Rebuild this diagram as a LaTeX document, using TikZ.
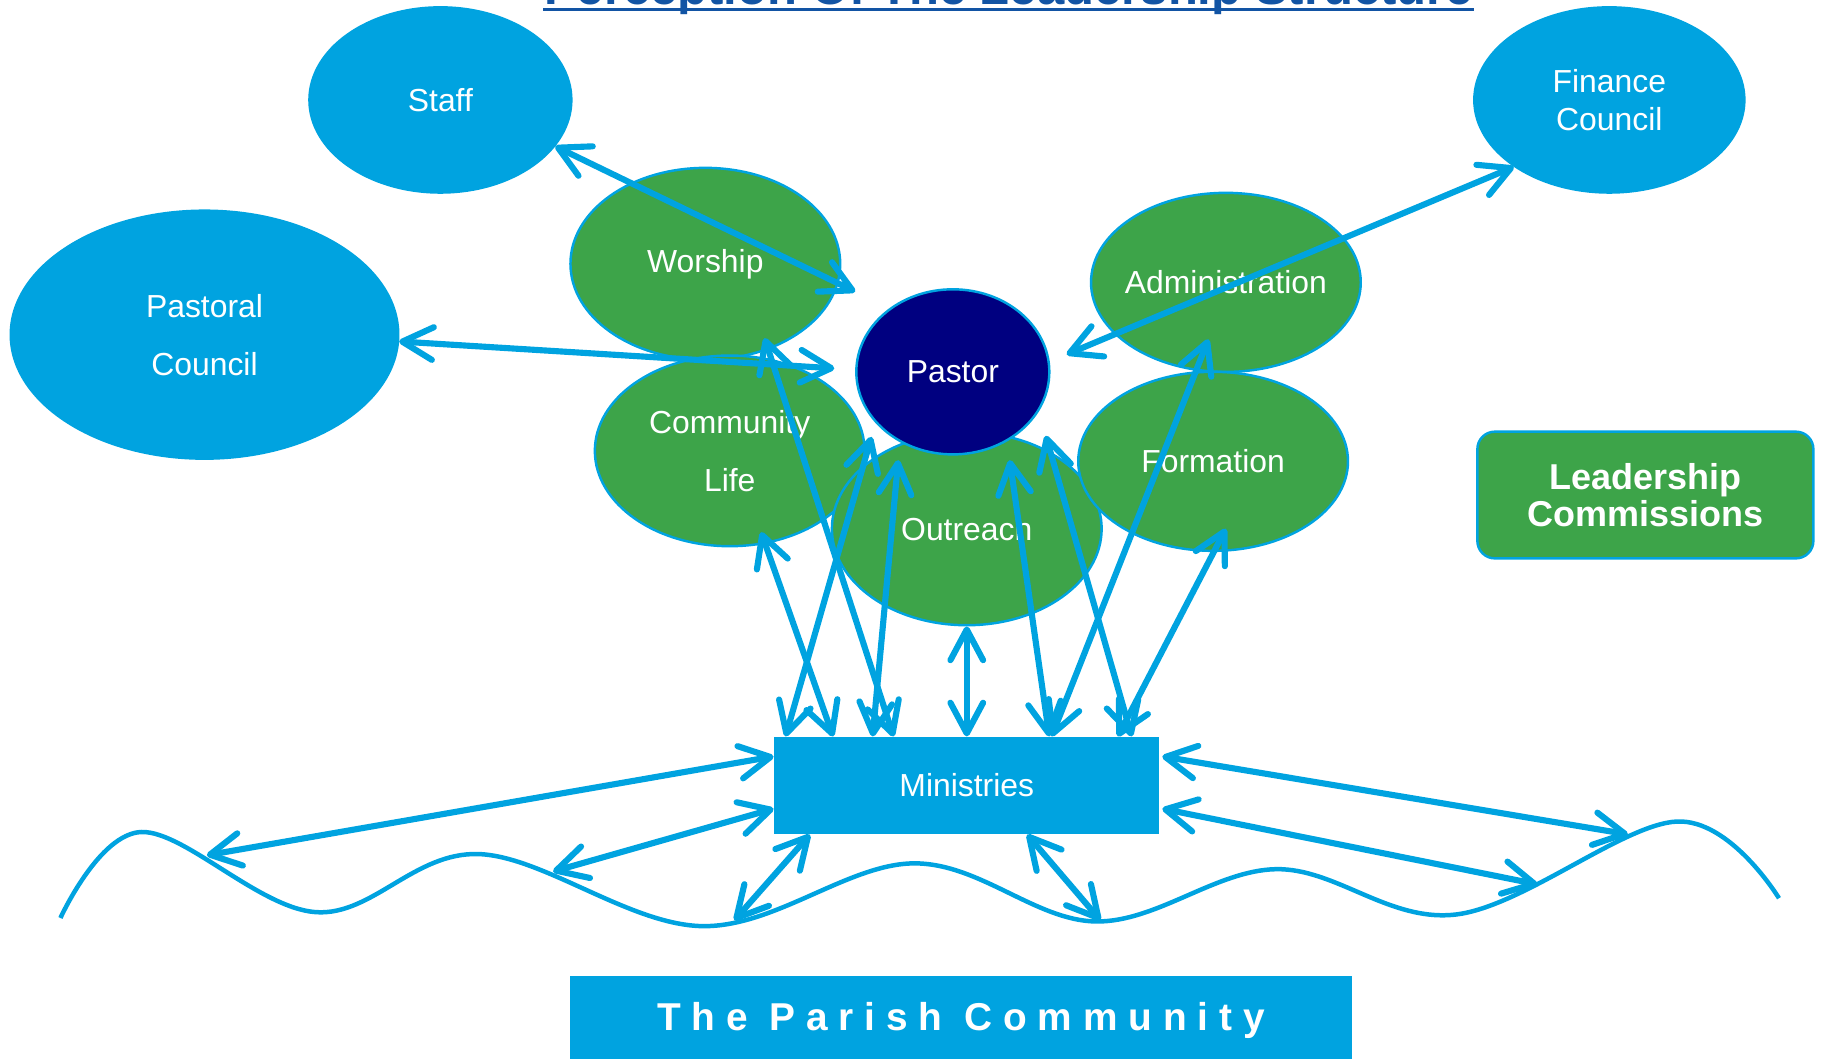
\documentclass[tikz,border=0pt]{standalone}
\usepackage{fontspec}
\setmainfont{Liberation Sans}
\newfontfamily\spacedfont[LetterSpace=28]{Liberation Sans}
\usepackage{tikz}
\usetikzlibrary{shapes.geometric, arrows.meta}
\definecolor{skyblue}{RGB}{0,163,224}
\definecolor{leafgreen}{RGB}{61,164,73}
\definecolor{pastornavy}{RGB}{0,0,128}
\definecolor{titleblue}{RGB}{18,84,164}
\tikzstyle{council} = [ellipse, inner sep=0pt, fill=skyblue, draw=skyblue, text=white, align=center, font=\fontsize{7.8}{9.4}\selectfont]
\tikzstyle{commission} = [ellipse, inner sep=0pt, minimum width=2.32cm, fill=leafgreen, draw=skyblue, line width=0.6pt, text=white, align=center, font=\fontsize{7.8}{9.4}\selectfont]
\tikzstyle{pastorbox} = [ellipse, inner sep=0pt, minimum width=1.66cm, minimum height=1.42cm, fill=pastornavy, draw=skyblue, line width=0.6pt, text=white, font=\fontsize{7.8}{9.4}\selectfont]
\tikzstyle{ministry} = [rectangle, inner sep=0pt, minimum width=3.31cm, minimum height=0.83cm, fill=skyblue, text=white, font=\fontsize{7.8}{9.4}\selectfont]
\tikzstyle{legend} = [rectangle, rounded corners=0.15cm, inner sep=0pt, minimum width=2.89cm, minimum height=1.09cm, fill=leafgreen, draw=skyblue, line width=0.6pt, text=white, align=center, font=\fontsize{8.8}{9.1}\selectfont\bfseries]
\tikzstyle{parishbox} = [rectangle, inner sep=0pt, minimum width=6.72cm, minimum height=0.76cm, fill=skyblue, text=white, font=\fontsize{9.5}{11}\selectfont\spacedfont\bfseries]
\tikzstyle{arrow} = [skyblue, line width=1.5pt, <->, >={Straight Barb[length=7.5pt,width=8pt,round]}]
\tikzstyle{wave} = [skyblue, line width=1.1pt]

\begin{document}
\begin{tikzpicture}[x=0.01cm, y=-0.01cm]
\useasboundingbox (0,0) rectangle (1568,911);

\node (title) [anchor=base, inner sep=0pt, text=titleblue, font=\fontsize{12}{14}\selectfont\bfseries] at (868,4) {Perception Of The Leadership Structure};
\draw [titleblue, line width=0.8pt] ([shift={(0,4)}]title.base west) -- ([shift={(0,4)}]title.base east);

\node (pastoral) [council, minimum width=3.34cm, minimum height=2.14cm] at (176,288) {Pastoral\\[4.8pt]Council};
\node (staff) [council, minimum width=2.26cm, minimum height=1.60cm] at (379,86) {Staff};
\node (finance) [council, minimum width=2.33cm, minimum height=1.60cm] at (1385,86) {Finance\\Council};
\node (worship) [commission, minimum height=1.65cm] at (607,227) {Worship};
\node (community) [commission, minimum height=1.64cm] at (628,388) {Community\\[4.8pt]Life};
\node (outreach) [commission, minimum height=1.66cm] at (832,455) {Outreach};
\node (admin) [commission, minimum height=1.54cm, inner xsep=-2pt] at (1055,243) {Administration};
\node (formation) [commission, minimum height=1.54cm] at (1044,397) {Formation};
\node (pastor) [pastorbox] at (820,320) {Pastor};
\node (commissions) [legend] at (1416,426) {Leadership\\Commissions};
\node (ministries) [ministry] at (832,676) {Ministries};
\node (parish) [parishbox] at (827,878) {The Parish Community};

% the parish community line
\draw [wave] plot [smooth, tension=0.6] coordinates {(52,790) (122,716) (272,785) (412,735) (604,797) (786,743) (943,793) (1098,748) (1253,787) (1443,707) (1531,773)};
\coordinate (w1) at (178,736);
\coordinate (w2) at (476,750);
\coordinate (w3) at (632,792);
\coordinate (w4) at (947,792);
\coordinate (w5) at (1323,761);
\coordinate (w6) at (1401,718);

% councils and pastor
\draw [arrow] (staff.-22) -- ([shift={(-84,-69)}]pastor.center);
\draw [arrow] (pastoral.-2) -- ([shift={(-102,-3)}]pastor.center);
\draw [arrow] (finance.215) -- ([shift={(98,-15)}]pastor.center);

% commissions and ministries
\draw [arrow] ([shift={(27,70)}]community.center) -- ([shift={(-115,0)}]ministries.north);
\draw [arrow] ([shift={(51,64)}]worship.center) -- ([shift={(-63,0)}]ministries.north);
\draw [arrow] ([shift={(-70,56)}]pastor.center) -- ([shift={(-156,0)}]ministries.north);
\draw [arrow] ([shift={(-47,76)}]pastor.center) -- ([shift={(-81,0)}]ministries.north);
\draw [arrow] (outreach.south) -- (ministries.north);
\draw [arrow] ([shift={(49,76)}]pastor.center) -- ([shift={(71,0)}]ministries.north);
\draw [arrow] ([shift={(80,55)}]pastor.center) -- ([shift={(142,0)}]ministries.north);
\draw [arrow] ([shift={(-15,49)}]admin.center) -- ([shift={(73,0)}]ministries.north);
\draw [arrow] ([shift={(11,58)}]formation.center) -- ([shift={(130,0)}]ministries.north);

% ministries and parish
\draw [arrow] ([shift={(0,-25)}]ministries.west) -- (w1);
\draw [arrow] ([shift={(0,20)}]ministries.west) -- (w2);
\draw [arrow] ([shift={(-135,0)}]ministries.south) -- (w3);
\draw [arrow] ([shift={(52,0)}]ministries.south) -- (w4);
\draw [arrow] ([shift={(2,20)}]ministries.east) -- (w5);
\draw [arrow] ([shift={(2,-25)}]ministries.east) -- (w6);

\end{tikzpicture}
\end{document}
